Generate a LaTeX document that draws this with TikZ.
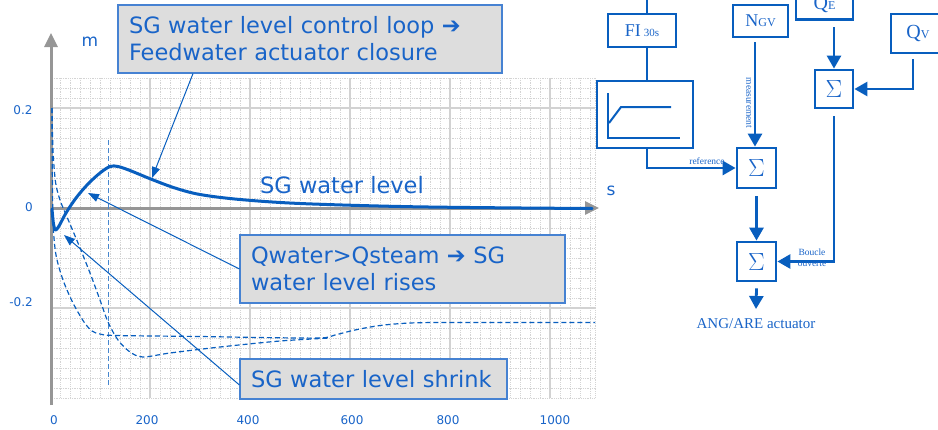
\documentclass[tikz,border=0pt]{standalone}
\usepackage{fontspec}
\setmainfont{Liberation Serif}
\newfontfamily\chartfont{DejaVu Sans}
\usetikzlibrary{arrows.meta}
\definecolor{cblue}{RGB}{8,94,190}
\definecolor{tblue}{RGB}{25,100,200}
\definecolor{boxgray}{RGB}{221,221,221}
\definecolor{bordblue}{RGB}{70,130,210}
\definecolor{axgray}{RGB}{150,150,150}
\definecolor{gridmaj}{RGB}{210,210,210}
\definecolor{gridmin}{RGB}{212,212,212}
\begin{document}
\begin{tikzpicture}[x=1pt,y=-1pt,
  minorgrid/.style={gridmin, line width=0.8pt, densely dotted},
  majorgrid/.style={gridmaj, line width=1.5pt},
  axisline/.style={axgray, line width=3pt, -{Triangle[length=14pt,width=13pt]}},
  mainline/.style={cblue, line width=3pt, line join=round, line cap=round},
  dashline/.style={cblue, line width=1.2pt, dash pattern=on 5pt off 3pt},
  callout/.style={draw=bordblue, line width=1.1pt, fill=boxgray, text=tblue,
    align=left, inner xsep=11pt, inner ysep=0pt,
    font=\chartfont\fontsize{22.5}{27}\selectfont},
  pointer/.style={cblue, line width=1pt, -{Triangle[length=11pt,width=8pt]}},
  chartlbl/.style={text=tblue, font=\chartfont\fontsize{12}{14}\selectfont, inner sep=0pt},
  blk/.style={draw=cblue, line width=2.8pt, inner sep=0pt, text=tblue},
  wire/.style={cblue, line width=2.8pt},
  arr/.style={cblue, line width=2.8pt, -{Triangle[length=13pt,width=14pt]}},
  small/.style={text=tblue, font=\fontsize{9.5}{9.5}\selectfont, inner sep=0pt}]
\useasboundingbox (0,0) rectangle (938,429);

% ---------- grid ----------
\foreach \x in {60,70,...,590} \draw[minorgrid] (\x,78) -- (\x,398);
\draw[minorgrid] (595,78) -- (595,398);
\foreach \y in {78,88,...,398} \draw[minorgrid] (52,\y) -- (595,\y);
\foreach \x in {150,250,...,550} \draw[majorgrid] (\x,78) -- (\x,398);
\foreach \y in {108,308} \draw[majorgrid] (52,\y) -- (595,\y);

% ---------- axes ----------
\draw[axisline] (51,405) -- (51,33);
\draw[axisline] (51,208) -- (599,208);

% ---------- curves ----------
\draw[cblue!75, line width=1pt, dash pattern=on 5pt off 3pt] (108,140) -- (108,385);
\draw[dashline] plot[smooth, tension=0.5] coordinates {(52,108) (52.3,170) (53.2,225) (56,255) (63,280) (73,303) (84,322) (92,331) (100,334) (115,335.5) (200,336.5) (260,337.5) (320,338) (335,335) (355,330) (380,325.5) (410,323) (450,322.5) (595,322.5)};
\draw[dashline] plot[smooth, tension=0.5] coordinates {(52,108) (53,150) (55.5,182) (60,200) (67,217) (78,243) (90,273) (100,300) (108,322) (118,340) (130,352) (143,357) (170,353) (220,347) (280,341) (330,338)};
\draw[mainline] plot[smooth, tension=0.55] coordinates {(52,209) (53.5,224) (55.5,230) (59,226) (66,213) (76,198) (88,184) (100,173) (110,166.5) (118,166.5) (130,170.5) (152,179.5) (175,188) (200,194.5) (240,199.5) (300,203.5) (400,206.5) (500,207.8) (592,208.5)};

% ---------- chart labels ----------
\node[chartlbl, font=\chartfont\fontsize{17}{17}\selectfont] (ym) at (90,42) {m};
\node[chartlbl, font=\chartfont\fontsize{17}{17}\selectfont] (xs) at (611,191) {s};
\node[chartlbl] (y1) at (23,110) {0.2};
\node[chartlbl] (y2) at (29,207) {0};
\node[chartlbl] (y3) at (21,302) {-0.2};
\node[chartlbl] (x0) at (54,420) {0};
\node[chartlbl] (x1) at (147,420) {200};
\node[chartlbl] (x2) at (248,420) {400};
\node[chartlbl] (x3) at (352,420) {600};
\node[chartlbl] (x4) at (448,420) {800};
\node[chartlbl] (x5) at (555,420) {1000};
\node[text=tblue, font=\chartfont\fontsize{22.5}{22.5}\selectfont, inner sep=0pt] (lvl) at (342,185) {SG water level};

% ---------- callouts ----------
\node[callout, minimum width=384pt, minimum height=68pt, text width=362pt] (c1) at (310,39)
  {SG water level control loop ➔\\Feedwater actuator closure};
\node[callout, minimum width=325pt, minimum height=68pt, text width=303pt] (c2) at (402.5,269)
  {Qwater>Qsteam ➔ SG\\water level rises};
\node[callout, minimum width=267pt, minimum height=40pt, text width=245pt] (c3) at (373.5,379)
  {SG water level shrink};
\coordinate (t1) at (152,178);
\coordinate (t2) at (88,193);
\coordinate (t3) at (64,235);
\draw[pointer] ([xshift=-117pt]c1.south) -- (t1);
\draw[pointer] (c2.west) -- (t2);
\draw[pointer] ([yshift=-6pt]c3.west) -- (t3);

% ---------- block diagram ----------
\node[blk, minimum width=68pt, minimum height=33pt] (fi) at (642,30.5)
  {\fontsize{18}{18}\selectfont FI\,\fontsize{11}{11}\selectfont 30s};
\node[blk, minimum width=96pt, minimum height=67pt] (big) at (645,114.5) {};
\draw[cblue, line width=2pt] (608,93) -- (608,138) -- (680,138);
\draw[cblue, line width=2pt] (609,123) -- (621,107) -- (671,107);
\node[blk, minimum width=55pt, minimum height=32pt] (ngv) at (760.5,21)
  {\fontsize{18}{18}\selectfont N\fontsize{12}{12}\selectfont GV};
\node[blk, minimum width=39pt, minimum height=40pt, font=\fontsize{24}{24}\selectfont] (s1) at (756.5,168) {$\Sigma$};
\node[blk, minimum width=39pt, minimum height=39pt, font=\fontsize{24}{24}\selectfont] (s3) at (756.5,261.5) {$\Sigma$};
\node[blk, minimum width=57pt, minimum height=31pt] (qe) at (824.5,4)
  {\fontsize{20}{20}\selectfont Q\fontsize{12}{12}\selectfont E};
\node[blk, minimum width=38pt, minimum height=38pt, font=\fontsize{24}{24}\selectfont] (s2) at (834,89) {$\Sigma$};
\node[blk, minimum width=54pt, minimum height=39pt] (qv) at (918,33.5)
  {\fontsize{20}{20}\selectfont Q\fontsize{12}{12}\selectfont V};
\node[text=tblue, font=\fontsize{15}{15}\selectfont, inner sep=0pt] (act) at (756,324) {ANG/ARE actuator};

\coordinate (ftop) at (647,0);
\coordinate (nb) at (755,42);
\coordinate (qeb) at (834,27);
\coordinate (qvb) at (913,59);
\coordinate (acttop) at (756,309);
\draw[wire] (ftop) -- (ftop |- fi.north);
\draw[wire] (fi.south -| ftop) -- (big.north -| ftop);
\draw[arr] (big.south -| ftop) |- (s1.west);
\draw[arr] (nb) -- (nb |- s1.north);
\draw[arr] ([yshift=-7pt]s1.south) -- (s3.north);
\draw[arr] ([yshift=-6pt]s3.south) -- (acttop);
\draw[arr] (qeb) -- (qeb |- s2.north);
\draw[arr] (qvb) |- (s2.east);
\draw[arr] ([yshift=-7pt]s2.south) |- (s3.east);

\node[small] (ref) at (707,161) {reference};
\node[small, rotate=-90] (meas) at (749,103) {measurement};
\node[small] (bo1) at (812,252) {Boucle};
\node[small] (bo2) at (812,264) {ouverte};
\end{tikzpicture}
\end{document}
